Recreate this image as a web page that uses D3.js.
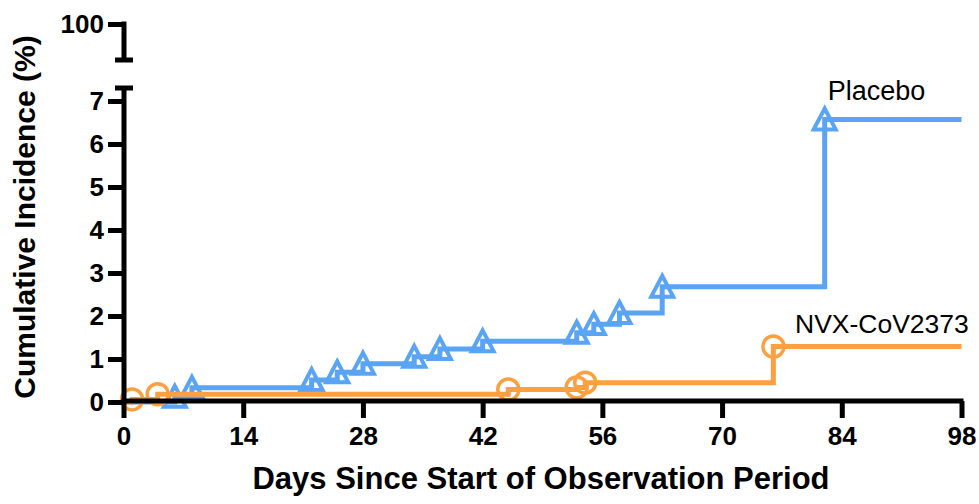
<!DOCTYPE html>
<html>
<head>
<meta charset="utf-8">
<script src="https://cdn.jsdelivr.net/npm/d3@7"></script>
<style>
  html, body { margin: 0; padding: 0; background: #fff; }
  svg { display: block; font-family: "Liberation Sans", Arial, Helvetica, sans-serif; }
</style>
</head>
<body>
<svg id="chart" width="979" height="504"></svg>
<script>
// ---- data ----
const placeboDays   = [6, 8, 22, 25, 28, 34, 37, 42, 53, 55, 58, 63, 82];
const placeboValues = [0.12, 0.33, 0.51, 0.69, 0.89, 1.05, 1.23, 1.41, 1.61, 1.81, 2.07, 2.68, 6.57];
const nvxDays       = [1, 4, 45, 53, 54, 76];
const nvxValues     = [0.06, 0.18, 0.29, 0.34, 0.45, 1.29];
const xTicks        = [0, 14, 28, 42, 56, 70, 84, 98];
const yTicks        = [0, 1, 2, 3, 4, 5, 6, 7];
const yTopTicks     = [100];
const seriesNames   = ["Placebo", "NVX-CoV2373"];
const xTitle = "Days Since Start of Observation Period";
const yTitle = "Cumulative Incidence (%)";

const BLUE = "#5aa4f5";
const ORANGE = "#ffa040";

const svg = d3.select("#chart");
const x = d3.scaleLinear().domain([0, 98]).range([123.5, 961.5]);
const y = d3.scaleLinear().domain([0, 7]).range([402, 101]);
const yTop = d3.scaleLinear().domain([95, 100]).range([60, 24]);
const axisX = 124;

// ---- series ----
function stepPoints(days, vals) {
  const pts = [[0, 0]];
  days.forEach((d, i) => pts.push([d, vals[i]]));
  pts.push([98, vals[vals.length - 1]]);
  return pts;
}
const line = d3.line().x(d => x(d[0])).y(d => y(d[1])).curve(d3.curveStepAfter);

const triangle = {
  draw(ctx, size) {
    const w = Math.sqrt(size) / 2;
    ctx.moveTo(0, -w);
    ctx.lineTo(w, w * 0.9);
    ctx.lineTo(-w, w * 0.9);
    ctx.closePath();
  }
};

const placeboPts = stepPoints(placeboDays, placeboValues);
const nvxPts = stepPoints(nvxDays, nvxValues);

svg.append("path").attr("d", line(placeboPts))
  .attr("fill", "none").attr("stroke", BLUE).attr("stroke-width", 5);
svg.append("g").selectAll("path").data(placeboDays.map((d, i) => [d, placeboValues[i]]))
  .join("path")
  .attr("transform", d => `translate(${x(d[0])},${y(d[1])})`)
  .attr("d", d3.symbol().type(triangle).size(22 * 22))
  .attr("fill", "none").attr("stroke", BLUE).attr("stroke-width", 4)
  .attr("stroke-linejoin", "miter");

svg.append("path").attr("d", line(nvxPts))
  .attr("fill", "none").attr("stroke", ORANGE).attr("stroke-width", 5);
svg.append("g").selectAll("circle").data(nvxDays.map((d, i) => [d, nvxValues[i]]))
  .join("circle")
  .attr("cx", d => x(d[0])).attr("cy", d => y(d[1])).attr("r", 10.5)
  .attr("fill", "none").attr("stroke", ORANGE).attr("stroke-width", 3.5);

// ---- series labels ----
svg.append("text").attr("x", x(82) + 3).attr("y", 100)
  .attr("font-size", 27).attr("fill", "#000").text(seriesNames[0]);
svg.append("text").attr("x", 795).attr("y", 333)
  .attr("font-size", 26.5).attr("fill", "#000").text(seriesNames[1]);

// ---- axes ----
const fmt = d3.format("d");
const gx = svg.append("g").attr("transform", `translate(0,401)`)
  .call(d3.axisBottom(x).tickValues(xTicks).tickFormat(fmt).tickSize(17).tickPadding(9).tickSizeOuter(0));
gx.select(".domain").attr("stroke-width", 5).attr("d", `M${axisX - 2.5},0H${x(98) + 2}`);

const gy = svg.append("g").attr("transform", `translate(${axisX},0)`)
  .call(d3.axisLeft(y).tickValues(yTicks).tickFormat(fmt).tickSize(16).tickPadding(4).tickSizeOuter(0));
gy.select(".domain").attr("stroke-width", 5).attr("d", `M0,${y(0) + 2}V88`);

const gyTop = svg.append("g").attr("transform", `translate(${axisX},0)`)
  .call(d3.axisLeft(yTop).tickValues(yTopTicks).tickFormat(fmt).tickSize(16).tickPadding(4).tickSizeOuter(0));
gyTop.select(".domain").attr("stroke-width", 5).attr("d", `M0,${yTop(100) - 2.5}V60`);

[gx, gy, gyTop].forEach(g => {
  g.selectAll(".tick line").attr("stroke-width", 5).attr("stroke", "#000");
  g.selectAll(".tick text").attr("font-size", 26).attr("font-weight", "bold")
    .attr("fill", "#000").attr("font-family", "'Liberation Sans', Arial, sans-serif");
  g.select(".domain").attr("stroke", "#000");
});

// break caps
const caps = [yTop.range()[0], 88];
svg.append("g").selectAll("line").data(caps).join("line")
  .attr("x1", axisX - 9).attr("x2", axisX + 9)
  .attr("y1", d => d).attr("y2", d => d)
  .attr("stroke", "#000").attr("stroke-width", 5);

// ---- titles ----
svg.append("text").attr("x", 541).attr("y", 489).attr("text-anchor", "middle")
  .attr("font-size", 31).attr("font-weight", "bold").attr("fill", "#000").text(xTitle);
svg.append("text").attr("transform", "translate(35,217) rotate(-90)")
  .attr("text-anchor", "middle")
  .attr("font-size", 30).attr("font-weight", "bold").attr("fill", "#000").text(yTitle);
</script>
</body>
</html>
